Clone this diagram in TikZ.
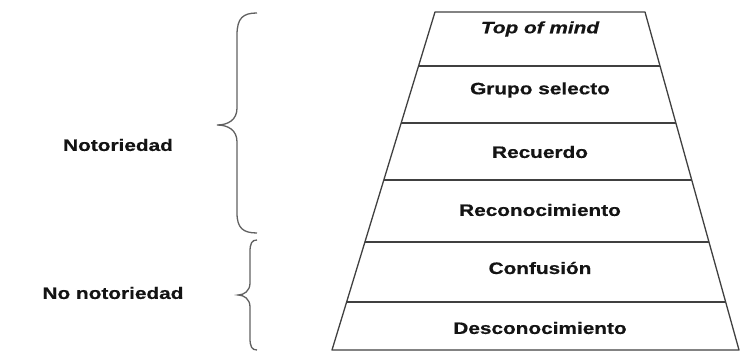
\documentclass[tikz,border=0pt]{standalone}
\usepackage{fontspec}
\usetikzlibrary{calc}
\setmainfont{Liberation Sans}
\newfontfamily\widefont[FakeStretch=1.26,FakeBold=0.6]{Liberation Sans}
\begin{document}
\begin{tikzpicture}[x=1pt,y=-1pt,
  lbl/.style={font=\widefont\fontsize{16.5}{18}\selectfont\bfseries, text=black!92, inner sep=0pt},
  edge/.style={draw=black!75, line width=1.3pt, line join=round},
  brace/.style={draw=black!62, line width=1.3pt}]
\useasboundingbox (0,0) rectangle (741,352);
% trapezoid corners
\coordinate (tl) at (435,12);
\coordinate (tr) at (645,12);
\coordinate (bl) at (332,350);
\coordinate (br) at (739,350);
\draw[edge] (tl) -- (tr) -- (br) -- (bl) -- cycle;
% horizontal dividers
\foreach \yy in {66,123,180,242,302}{
  \draw[edge] ($(tl)!{(\yy-12)/338}!(bl)$) -- ($(tr)!{(\yy-12)/338}!(br)$);
}
% labels
\node[lbl] (top) at (540,29) {\itshape Top of mind};
\node[lbl] (grupo) at (540,90) {Grupo selecto};
\node[lbl] (recuerdo) at (540,152) {Recuerdo};
\node[lbl] (recon) at (540,210) {Reconocimiento};
\node[lbl] (conf) at (540,268) {Confusión};
\node[lbl] (desc) at (540,328) {Desconocimiento};
\node[lbl] (noto) at (118,145) {Notoriedad};
\node[lbl] (nonoto) at (113,293) {No notoriedad};
% braces
\draw[brace] (257,13) .. controls (243,13) and (237,18) .. (237,35) -- (237,108)
  .. controls (237,120) and (228,125) .. (217,125)
  .. controls (228,125) and (237,130) .. (237,142) -- (237,213)
  .. controls (237,228) and (243,233) .. (257,233);
\draw[brace] (257,240) .. controls (252,240) and (250,243) .. (250,252) -- (250,283)
  .. controls (250,291) and (244,295) .. (238,295)
  .. controls (244,295) and (250,299) .. (250,307) -- (250,338)
  .. controls (250,347) and (252,350) .. (257,350);
\end{tikzpicture}
\end{document}
